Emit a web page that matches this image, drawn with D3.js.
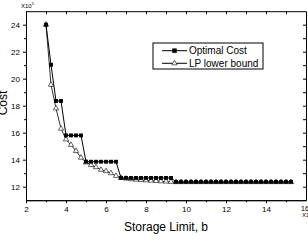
<!DOCTYPE html>
<html>
<head>
<meta charset="utf-8">
<script src="https://cdn.jsdelivr.net/npm/d3@7"></script>
<style>
  body { margin: 0; background: #fff; }
  svg { display: block; font-family: "Liberation Sans", Arial, sans-serif; }
</style>
</head>
<body>
<div class="chart-container"></div>
<script>
// storage limit b (x10)
const storage = [3, 3.25, 3.5, 3.75, 4, 4.25, 4.5, 4.75, 5, 5.25, 5.5, 5.75, 6, 6.25, 6.5,
  6.75, 7, 7.25, 7.5, 7.75, 8, 8.25, 8.5, 8.75, 9, 9.25,
  9.5, 9.75, 10, 10.25, 10.5, 10.75, 11, 11.25, 11.5, 11.75, 12, 12.25, 12.5, 12.75,
  13, 13.25, 13.5, 13.75, 14, 14.25, 14.5, 14.75, 15, 15.25];

// cost (x10^5)
const optimalCost = [24, 21.03, 18.35, 18.35, 15.8, 15.8, 15.8, 15.8,
  13.85, 13.85, 13.85, 13.85, 13.85, 13.85, 13.85,
  12.65, 12.65, 12.65, 12.65, 12.65, 12.65, 12.65, 12.65, 12.65, 12.65, 12.65,
  12.36, 12.36, 12.36, 12.36, 12.36, 12.36, 12.36, 12.36, 12.36, 12.36, 12.36, 12.36,
  12.36, 12.36, 12.36, 12.36, 12.36, 12.36, 12.36, 12.36, 12.36, 12.36, 12.36, 12.36];

const lpBound = [24, 19.55, 17.8, 16.3, 15.5, 15.1, 14.65, 14.15, 13.8, 13.6, 13.45, 13.25,
  13.15, 13.0, 12.8, 12.65, 12.6, 12.56, 12.52, 12.5, 12.47, 12.45, 12.42, 12.4, 12.38, 12.36,
  12.34, 12.34, 12.34, 12.34, 12.34, 12.34, 12.34, 12.34, 12.34, 12.34, 12.34, 12.34,
  12.34, 12.34, 12.34, 12.34, 12.34, 12.34, 12.34, 12.34, 12.34, 12.34, 12.34, 12.34];

const xTicks = [2, 4, 6, 8, 10, 12, 14];
const yTicks = [12, 14, 16, 18, 20, 22, 24];

const width = 308;
const height = 242;
const mLeft = 26, mRight = 306, mTop = 11.2, mBottom = 200.2;

const x = d3.scaleLinear().domain([2, 16]).range([mLeft, mRight]);
const y = d3.scaleLinear().domain([11, 25]).range([mBottom, mTop]);

const svg = d3.select('.chart-container').append('svg')
    .attr('width', width)
    .attr('height', height);

// axes with minor ticks
const minorX = d3.range(3, 16, 2);
const minorY = d3.range(13, 25, 2);

function frame(g, axis) {
    g.call(axis);
    g.select('.domain').attr('stroke', '#000').attr('stroke-width', 1);
    g.selectAll('.tick line').attr('stroke', '#000');
    g.selectAll('.tick text').attr('fill', '#000').attr('font-size', 8);
}

svg.append('g')
    .attr('transform', `translate(0,${mBottom})`)
    .call(g => frame(g, d3.axisBottom(x).tickValues(xTicks).tickSize(3).tickSizeOuter(0).tickPadding(3)));
svg.append('g')
    .attr('transform', `translate(0,${mBottom})`)
    .call(d3.axisBottom(x).tickValues(minorX).tickSize(2).tickFormat('').tickSizeOuter(0))
    .call(g => g.selectAll('line').attr('stroke', '#000'));

svg.append('g')
    .attr('transform', `translate(${mLeft},0)`)
    .call(g => frame(g, d3.axisLeft(y).tickValues(yTicks).tickSize(3).tickSizeOuter(0).tickPadding(3)));
svg.append('g')
    .attr('transform', `translate(${mLeft},0)`)
    .call(d3.axisLeft(y).tickValues(minorY).tickSize(2).tickFormat('').tickSizeOuter(0))
    .call(g => g.selectAll('line').attr('stroke', '#000'));

// top and right: inward ticks
svg.append('g')
    .attr('transform', `translate(0,${mTop})`)
    .call(d3.axisBottom(x).tickValues(xTicks.concat(minorX)).tickSize(3).tickFormat('').tickSizeOuter(0))
    .call(g => g.selectAll('line, path').attr('stroke', '#000'));
svg.append('g')
    .attr('transform', `translate(${mRight},0)`)
    .call(d3.axisLeft(y).tickValues(yTicks.concat(minorY)).tickSize(3).tickFormat('').tickSizeOuter(0))
    .call(g => g.selectAll('line, path').attr('stroke', '#000'));

// end label "16" with factor
svg.append('text')
    .attr('x', x(16) - 1).attr('y', mBottom + 11)
    .attr('text-anchor', 'middle').attr('font-size', 7)
    .text('16');
svg.append('text')
    .attr('x', x(16) - 4).attr('y', mBottom + 17)
    .attr('font-size', 6)
    .text('X10');

// y factor
const yf = svg.append('text').attr('x', 21).attr('y', 8).attr('font-size', 6);
yf.append('tspan').text('X10');
yf.append('tspan').attr('dy', -3).attr('font-size', 4).text('5');

// titles
svg.append('text')
    .attr('x', (mLeft + mRight) / 2).attr('y', 231)
    .attr('text-anchor', 'middle').attr('font-size', 12)
    .text('Storage Limit, b');
svg.append('text')
    .attr('transform', 'translate(7,103) rotate(-90)')
    .attr('text-anchor', 'middle').attr('font-size', 12)
    .text('Cost');

// series
const line = d3.line();
const ptsLP = storage.map((s, i) => [x(s), y(lpBound[i])]);
const ptsOpt = storage.map((s, i) => [x(s), y(optimalCost[i])]);

const tri = d3.symbol().type(d3.symbolTriangle).size(12);
const sq = d3.symbol().type(d3.symbolSquare).size(15);

svg.append('path').attr('d', line(ptsLP)).attr('fill', 'none').attr('stroke', '#000').attr('stroke-width', 0.8);
svg.append('g').selectAll('path').data(ptsLP).join('path')
    .attr('transform', d => `translate(${d[0]},${d[1]})`)
    .attr('d', tri).attr('fill', '#fff').attr('stroke', '#000').attr('stroke-width', 0.6);

svg.append('path').attr('d', line(ptsOpt)).attr('fill', 'none').attr('stroke', '#000').attr('stroke-width', 1);
svg.append('g').selectAll('path').data(ptsOpt).join('path')
    .attr('transform', d => `translate(${d[0]},${d[1]})`)
    .attr('d', sq).attr('fill', '#000');

// legend
const legend = svg.append('g').attr('transform', 'translate(153,43)');
legend.append('rect').attr('width', 110).attr('height', 26)
    .attr('fill', '#fff').attr('stroke', '#000').attr('stroke-width', 1);
const items = [
    { name: 'Optimal Cost', sym: sq, fill: '#000' },
    { name: 'LP lower bound', sym: tri, fill: '#fff' }
];
const li = legend.selectAll('g').data(items).join('g')
    .attr('transform', (d, i) => `translate(0,${7.7 + i * 12.6})`);
li.append('line').attr('x1', 9).attr('x2', 34).attr('stroke', '#000');
li.append('path').attr('transform', 'translate(21.5,0)')
    .attr('d', d => d.sym()).attr('fill', d => d.fill).attr('stroke', '#000').attr('stroke-width', 0.6);
li.append('text').attr('x', 36).attr('dy', '0.35em').attr('font-size', 10)
    .text(d => d.name);
</script>
</body>
</html>
